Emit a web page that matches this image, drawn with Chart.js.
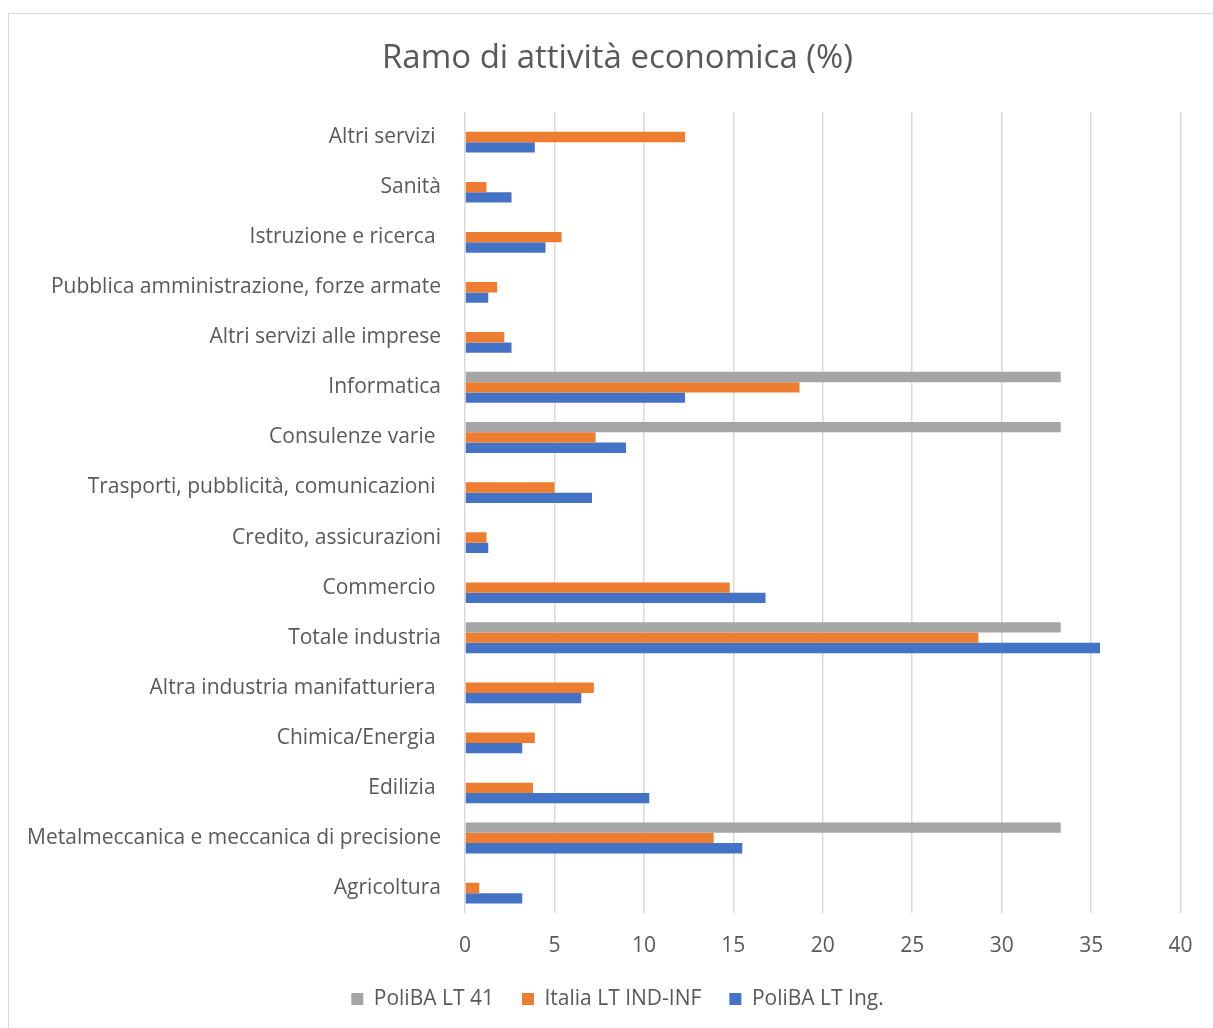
<!DOCTYPE html>
<html><head><meta charset="utf-8">
<script src="https://cdn.jsdelivr.net/npm/chart.js@4"></script>
<style>
html,body{margin:0;padding:0;background:#fff;overflow:hidden}
#wrap{position:relative;width:1213px;height:1028px}
#frame{position:absolute;left:8px;top:13px;width:1230px;height:1040px;border:1.5px solid #d9d9d9;box-sizing:border-box}
canvas{position:absolute;left:0;top:0}
</style></head><body>
<div id="wrap"><div id="frame"></div><canvas id="c" width="1213" height="1028"></canvas></div>
<script>
const categories = [
  "Altri servizi ",
  "Sanità",
  "Istruzione e ricerca ",
  "Pubblica amministrazione, forze armate",
  "Altri servizi alle imprese",
  "Informatica",
  "Consulenze varie ",
  "Trasporti, pubblicità, comunicazioni ",
  "Credito, assicurazioni",
  "Commercio ",
  "Totale industria",
  "Altra industria manifatturiera ",
  "Chimica/Energia ",
  "Edilizia ",
  "Metalmeccanica e meccanica di precisione",
  "Agricoltura"
];
const seriesNames = ["PoliBA LT 41", "Italia LT IND-INF", "PoliBA LT Ing."];
const polibaLT41 = [null, null, null, null, null, 33.3, 33.3, null, null, null, 33.3, null, null, null, 33.3, null];
const italiaLT   = [12.3, 1.2, 5.4, 1.8, 2.2, 18.7, 7.3, 5.0, 1.2, 14.8, 28.7, 7.2, 3.9, 3.8, 13.9, 0.8];
const polibaIng  = [3.9, 2.6, 4.5, 1.3, 2.6, 12.3, 9.0, 7.1, 1.3, 16.8, 35.5, 6.5, 3.2, 10.3, 15.5, 3.2];
const xTicks = [0, 5, 10, 15, 20, 25, 30, 35, 40];

const TXT = '#595959';
const FONT = 'Open Sans';

new Chart(document.getElementById('c'), {
  type: 'bar',
  data: {
    labels: categories,
    datasets: [
      {label: seriesNames[0], data: polibaLT41, backgroundColor: '#A5A5A5'},
      {label: seriesNames[1], data: italiaLT, backgroundColor: '#ED7D31'},
      {label: seriesNames[2], data: polibaIng, backgroundColor: '#4472C4'}
    ]
  },
  options: {
    indexAxis: 'y',
    responsive: false,
    animation: false,
    devicePixelRatio: 1,
    datasets: {bar: {barPercentage: 1, categoryPercentage: 0.62, borderWidth: 0}},
    layout: {padding: {left: 48, right: 26, top: 0, bottom: 8.5}},
    plugins: {
      title: {display: true, text: 'Ramo di attività economica (%)', color: TXT,
        font: {family: FONT, size: 33, weight: 'normal'}, padding: {top: 39.2, bottom: 33.2}},
      legend: {position: 'bottom', labels: {color: TXT, boxWidth: 12, boxHeight: 12,
        font: {family: FONT, size: 21}, padding: 28}},
      tooltip: {enabled: false}
    },
    scales: {
      x: {
        min: 0, max: 40,
        afterBuildTicks: s => { s.ticks = xTicks.map(v => ({value: v})); },
        afterFit: s => { s.height = 47.5; },
        grid: {color: '#d9d9d9', lineWidth: 1.5, drawTicks: false},
        border: {display: false},
        ticks: {color: TXT, font: {family: FONT, size: 21}, padding: 20.4}
      },
      y: {
        grid: {display: false, drawTicks: false},
        border: {display: false},
        afterFit: s => { s.width = 417; s._computeLabelArea = () => undefined; },
        ticks: {color: TXT, font: {family: FONT, size: 21}, padding: 24, autoSkip: false}
      }
    }
  }
});
</script>
</body></html>
